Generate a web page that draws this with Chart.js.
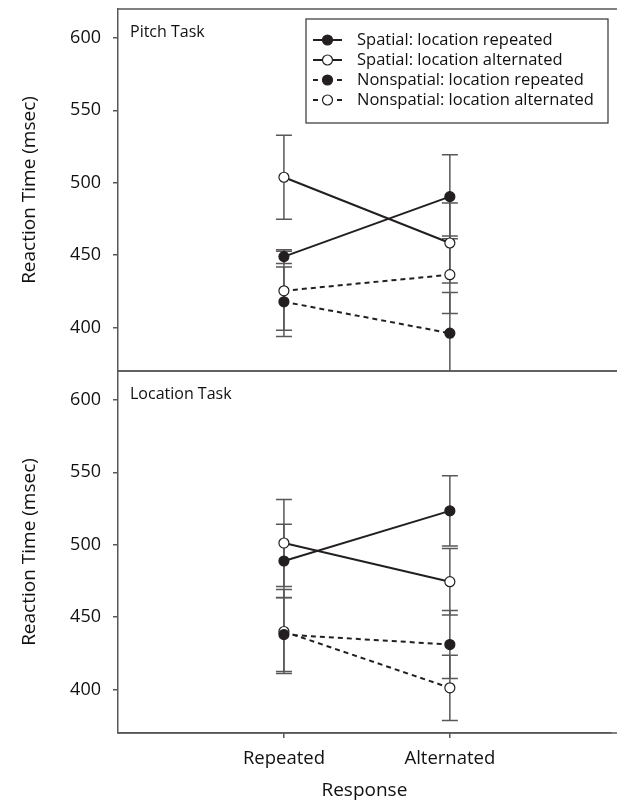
<!DOCTYPE html>
<html>
<head>
<meta charset="utf-8">
<script src="https://cdn.jsdelivr.net/npm/chart.js@4.4.1/dist/chart.umd.min.js"></script>
<style>
    html, body { margin: 0; padding: 0; background: #fff; }
    #wrap { position: relative; width: 617px; height: 806px; overflow: hidden; }
    .panel { position: absolute; left: 0; width: 617px; }
    #pitchBox { top: 0; height: 380px; }
    #locBox { top: 362px; height: 444px; }
</style>
</head>
<body>
<div id="wrap">
    <div class="panel" id="pitchBox"><canvas id="pitchChart"></canvas></div>
    <div class="panel" id="locBox"><canvas id="locChart"></canvas></div>
</div>
<script>
// categories on the x axis (placed at 1 and 2)
const responses = ['Repeated', 'Alternated'];
const yTicks = [400, 450, 500, 550, 600];

const seriesNames = [
    'Spatial: location repeated',
    'Spatial: location alternated',
    'Nonspatial: location repeated',
    'Nonspatial: location alternated'
];

// Pitch task means / error bar half-widths
const pitchSpatialRep = [449, 490.4];
const pitchSpatialRepErr = [4.8, 29];
const pitchSpatialAlt = [503.8, 458.4];
const pitchSpatialAltErr = [29, 27.7];
const pitchNonRep = [417.8, 396.1];
const pitchNonRepErr = [24, 28.1];
const pitchNonAlt = [425.4, 436.5];
const pitchNonAltErr = [27.3, 26.8];

// Location task
const locSpatialRep = [488.8, 523.4];
const locSpatialRepErr = [25.4, 24.2];
const locSpatialAlt = [501.2, 474.5];
const locSpatialAltErr = [30, 23];
const locNonRep = [438, 431.1];
const locNonRepErr = [25.6, 23.5];
const locNonAlt = [440.1, 401.2];
const locNonAltErr = [29, 22.5];

const INK = '#231f20';
const AXIS = '#58585a';
const FONT = "'Open Sans', 'Noto Sans', sans-serif";

function makeDataset(name, values, errs, filled, dashed) {
    return {
        label: name,
        data: values.map((v, i) => ({ x: i + 1, y: v })),
        err: errs,
        borderColor: INK,
        borderWidth: 2,
        borderDash: dashed ? [5, 4] : [],
        pointRadius: 5,
        pointBorderWidth: 1.2,
        pointBorderColor: INK,
        pointBackgroundColor: filled ? INK : '#fff',
        fill: false,
        tension: 0
    };
}

const errorBars = {
    id: 'errorBars',
    beforeDatasetsDraw(chart) {
        const ctx = chart.ctx;
        const area = chart.chartArea;
        const y = chart.scales.y;
        const x = chart.scales.x;
        ctx.save();
        ctx.beginPath();
        ctx.rect(area.left, area.top, area.right - area.left, area.bottom - area.top);
        ctx.clip();
        ctx.strokeStyle = AXIS;
        ctx.lineWidth = 1.5;
        chart.data.datasets.forEach(ds => {
            ds.data.forEach((p, i) => {
                const px = x.getPixelForValue(p.x);
                const top = y.getPixelForValue(p.y + ds.err[i]);
                const bot = y.getPixelForValue(p.y - ds.err[i]);
                ctx.beginPath();
                ctx.moveTo(px, top);
                ctx.lineTo(px, bot);
                ctx.moveTo(px - 8, top);
                ctx.lineTo(px + 8, top);
                ctx.moveTo(px - 8, bot);
                ctx.lineTo(px + 8, bot);
                ctx.stroke();
            });
        });
        ctx.restore();
    }
};

const panelFrame = {
    id: 'panelFrame',
    afterDraw(chart, args, opts) {
        const ctx = chart.ctx;
        const area = chart.chartArea;
        ctx.save();
        ctx.strokeStyle = AXIS;
        ctx.lineWidth = 1.5;
        ctx.beginPath();
        ctx.moveTo(area.left, area.top);
        ctx.lineTo(chart.width, area.top);
        ctx.moveTo(area.left, area.bottom);
        ctx.lineTo(chart.width, area.bottom);
        ctx.stroke();

        ctx.fillStyle = '#111';
        ctx.font = '16px ' + FONT;
        ctx.textBaseline = 'alphabetic';
        ctx.textAlign = 'left';
        ctx.fillText(opts.title, area.left + 12, area.top + 28);

        if (opts.legend) {
            const lx = 306, ly = 19, lw = 302, lh = 104;
            ctx.lineWidth = 1.2;
            ctx.strokeStyle = '#333';
            ctx.strokeRect(lx, ly, lw, lh);
            ctx.font = '16.5px ' + FONT;
            ctx.textBaseline = 'middle';
            chart.data.datasets.forEach((ds, i) => {
                const cy = ly + 21 + i * 20;
                ctx.strokeStyle = INK;
                ctx.lineWidth = 2;
                ctx.beginPath();
                if (ds.borderDash.length) {
                    ctx.moveTo(313, cy); ctx.lineTo(318, cy);
                    ctx.moveTo(337, cy); ctx.lineTo(342, cy);
                } else {
                    ctx.moveTo(313, cy); ctx.lineTo(342, cy);
                }
                ctx.stroke();
                ctx.beginPath();
                ctx.arc(327.5, cy, 5, 0, Math.PI * 2);
                ctx.fillStyle = ds.pointBackgroundColor;
                ctx.fill();
                ctx.lineWidth = 1.2;
                ctx.stroke();
                ctx.fillStyle = '#111';
                ctx.fillText(ds.label, 357, cy);
            });
        }
        ctx.restore();
    }
};

function buildChart(canvasId, datasets, title, showX, withLegend) {
    return new Chart(document.getElementById(canvasId).getContext('2d'), {
        type: 'line',
        data: { datasets: datasets },
        options: {
            responsive: true,
            maintainAspectRatio: false,
            animation: false,
            layout: { padding: { top: 9, bottom: showX ? 0 : 9, left: 0, right: 0 } },
            plugins: {
                legend: { display: false },
                tooltip: { enabled: false },
                panelFrame: { title: title, legend: withLegend }
            },
            scales: {
                x: {
                    type: 'linear',
                    min: 0,
                    max: 2.97,
                    display: showX,
                    afterBuildTicks: axis => { axis.ticks = responses.map((r, i) => ({ value: i + 1 })); },
                    afterFit: axis => {
                        axis.height = showX ? 73 : 0;
                        axis.paddingLeft = 0;
                        axis.paddingRight = 0;
                    },
                    ticks: {
                        callback: v => responses[v - 1],
                        color: '#111',
                        font: { family: FONT, size: 18.5 },
                        padding: 10,
                        maxRotation: 0
                    },
                    grid: { drawOnChartArea: false, tickLength: 5, color: AXIS, lineWidth: 1.5 },
                    border: { color: AXIS, width: 1.5 },
                    title: {
                        display: true,
                        text: 'Response',
                        color: '#111',
                        font: { family: FONT, size: 19 },
                        padding: { top: 0, bottom: 4 }
                    }
                },
                y: {
                    min: 370,
                    max: 620,
                    afterBuildTicks: axis => { axis.ticks = yTicks.map(v => ({ value: v })); },
                    afterFit: axis => {
                        axis.width = 118;
                        axis.paddingTop = 0;
                        axis.paddingBottom = 0;
                    },
                    ticks: {
                        color: '#111',
                        font: { family: FONT, size: 18 },
                        padding: 12
                    },
                    grid: { drawOnChartArea: false, tickLength: 5, color: AXIS, lineWidth: 1.5 },
                    border: { color: AXIS, width: 1.5 },
                    title: {
                        display: true,
                        text: 'Reaction Time (msec)',
                        color: '#111',
                        font: { family: FONT, size: 19 },
                        padding: { top: 18, bottom: 0 }
                    }
                }
            }
        },
        plugins: [errorBars, panelFrame]
    });
}

buildChart('pitchChart', [
    makeDataset(seriesNames[0], pitchSpatialRep, pitchSpatialRepErr, true, false),
    makeDataset(seriesNames[1], pitchSpatialAlt, pitchSpatialAltErr, false, false),
    makeDataset(seriesNames[2], pitchNonRep, pitchNonRepErr, true, true),
    makeDataset(seriesNames[3], pitchNonAlt, pitchNonAltErr, false, true)
], 'Pitch Task', false, true);

buildChart('locChart', [
    makeDataset(seriesNames[0], locSpatialRep, locSpatialRepErr, true, false),
    makeDataset(seriesNames[1], locSpatialAlt, locSpatialAltErr, false, false),
    makeDataset(seriesNames[2], locNonRep, locNonRepErr, true, true),
    makeDataset(seriesNames[3], locNonAlt, locNonAltErr, false, true)
], 'Location Task', true, false);
</script>
</body>
</html>
